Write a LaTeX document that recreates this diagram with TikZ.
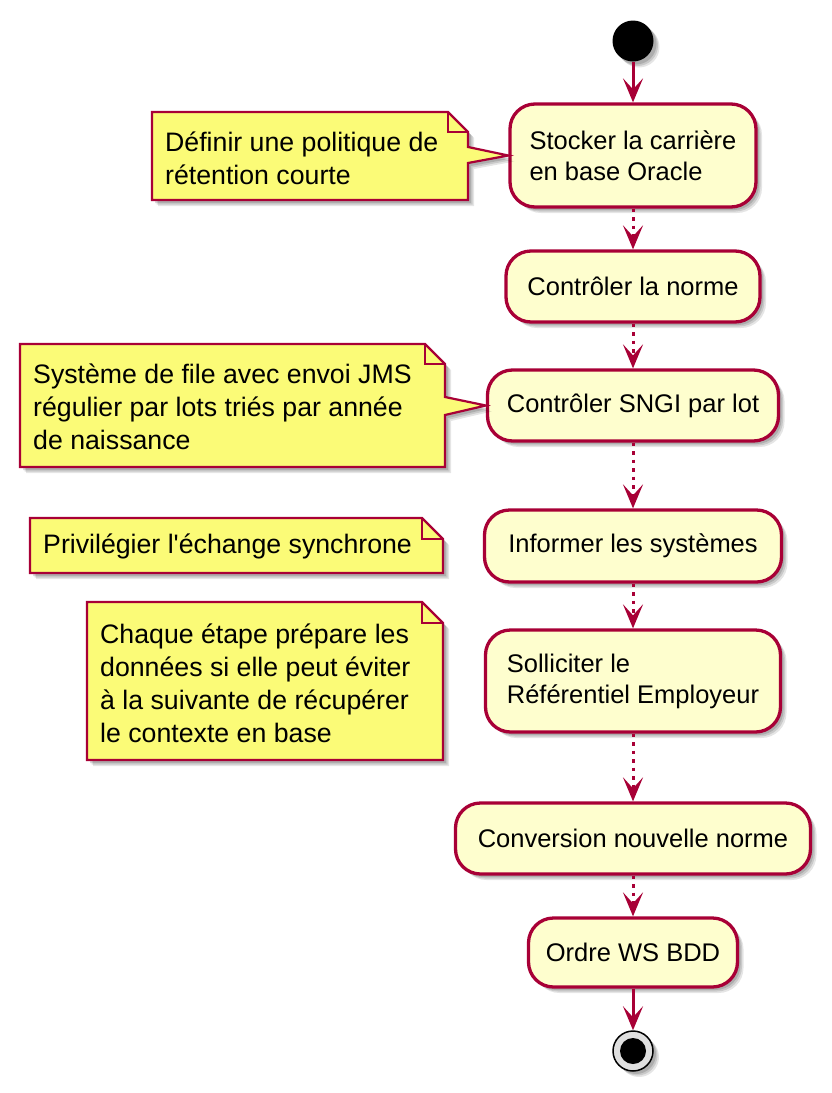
\documentclass[tikz,border=0pt]{standalone}
\usepackage{fontspec}
\setmainfont{Liberation Sans}[Ligatures=TeXOff]
\usetikzlibrary{arrows.meta,shadows}
\definecolor{umlred}{HTML}{A80036}
\definecolor{boxfill}{HTML}{FEFECE}
\definecolor{notefill}{HTML}{FBFB77}
\tikzset{
  shad/.style={
    drop shadow={shadow xshift=6pt, shadow yshift=-6pt, opacity=0.10, fill=black},
    drop shadow={shadow xshift=4.5pt, shadow yshift=-4.5pt, opacity=0.12, fill=black},
    drop shadow={shadow xshift=3pt, shadow yshift=-3pt, opacity=0.14, fill=black}},
  actbox/.style={draw=umlred, fill=boxfill, line width=3.3pt, rounded corners=25pt,
    inner sep=0pt, align=left, font=\fontsize{25.5}{31}\selectfont, shad},
  notetext/.style={inner sep=0pt, align=left, font=\fontsize{26.7}{33}\selectfont, anchor=west},
  noteshape/.style={draw=umlred, fill=notefill, line width=2.2pt, shad, line join=miter},
  notefold/.style={draw=umlred, line width=2.2pt},
  flow/.style={draw=umlred, line width=3pt, -{Stealth[length=24pt,width=20pt,inset=11pt]}},
  dotflow/.style={flow, dash pattern=on 3.5pt off 5pt},
}
\begin{document}
\begin{tikzpicture}[x=1pt,y=1pt]
\useasboundingbox (0,0) rectangle (832,-1093);
% start / end
\node[circle, fill=black, minimum size=41pt, inner sep=0pt, shad] (start) at (633,-41) {};
% activity boxes
\node[actbox, minimum width=246pt, minimum height=103pt] (b1) at (633,-155.5) {Stocker la carrière\\en base Oracle};
\node[actbox, minimum width=254pt, minimum height=71pt] (b2) at (633,-286.5) {Contrôler la norme};
\node[actbox, minimum width=291pt, minimum height=71pt] (b3) at (633,-405.5) {Contrôler SNGI par lot};
\node[actbox, minimum width=297pt, minimum height=72pt] (b4) at (633,-546) {Informer les systèmes};
\node[actbox, minimum width=295pt, minimum height=102pt] (b5) at (633,-681) {Solliciter le\\Référentiel Employeur};
\node[actbox, minimum width=355pt, minimum height=71pt] (b6) at (633,-838.5) {Conversion nouvelle norme};
\node[actbox, minimum width=209pt, minimum height=69pt] (b7) at (633,-952.5) {Ordre WS BDD};
\node[circle, draw=black, line width=1.5pt, fill=gray!25, minimum size=40pt, inner sep=0pt, shad] (end) at (633,-1051) {};
\node[circle, fill=black, minimum size=26pt, inner sep=0pt] (endin) at (end.center) {};
% flows
\draw[flow] (start) -- (b1);
\draw[dotflow] (b1) -- (b2);
\draw[dotflow] (b2) -- (b3);
\draw[dotflow] (b3) -- (b4);
\draw[dotflow] (b4) -- (b5);
\draw[dotflow] (b5) -- (b6);
\draw[dotflow] (b6) -- (b7);
\draw[flow] (b7) -- (end);
% note 1
\draw[noteshape] (152,-112) -- (448,-112) -- (468,-132) -- (468,-147) -- (b1.west) -- (468,-163) -- (468,-200) -- (152,-200) -- cycle;
\draw[notefold] (448,-112) -- (448,-132) -- (468,-132);
\node[notetext] (n1) at (165,-158) {Définir une politique de\\rétention courte};
% note 2
\draw[noteshape] (20,-344) -- (425,-344) -- (445,-364) -- (445,-397) -- (b3.west) -- (445,-415) -- (445,-467) -- (20,-467) -- cycle;
\draw[notefold] (425,-344) -- (425,-364) -- (445,-364);
\node[notetext] (n2) at (33,-407) {Système de file avec envoi JMS\\régulier par lots triés par année\\de naissance};
% note 3
\draw[noteshape] (30,-518) -- (422,-518) -- (443,-539) -- (443,-573) -- (30,-573) -- cycle;
\draw[notefold] (422,-518) -- (422,-539) -- (443,-539);
\node[notetext] (n3) at (43,-546) {Privilégier l'échange synchrone};
% note 4
\draw[noteshape] (87,-602) -- (422,-602) -- (443,-623) -- (443,-760) -- (87,-760) -- cycle;
\draw[notefold] (422,-602) -- (422,-623) -- (443,-623);
\node[notetext] (n4) at (100,-683) {Chaque étape prépare les\\données si elle peut éviter\\à la suivante de récupérer\\le contexte en base};
\end{tikzpicture}
\end{document}
